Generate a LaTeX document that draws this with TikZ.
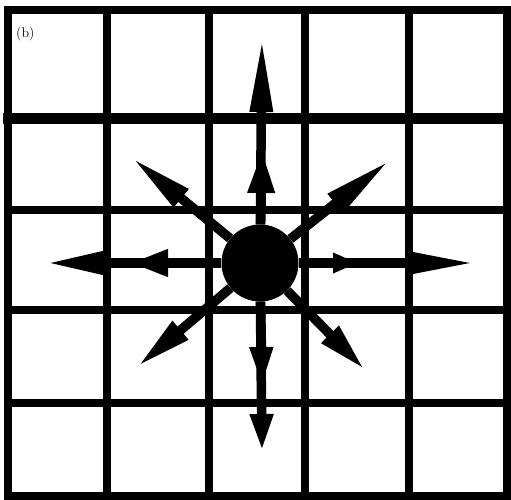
\documentclass[tikz,border=0pt]{standalone}
\usepackage{tikz}
\usetikzlibrary{arrows.meta, positioning}

\begin{document}
\begin{tikzpicture}[x=1pt, y=-1pt,
  gridline/.style={line width=8pt, line cap=rect},
  shaft/.style={line width=9.5pt},
  src/.style={circle, fill=black, minimum size=77pt, inner sep=0pt},
  tag/.style={font=\fontsize{14}{16}\selectfont, inner sep=0pt},
]
  \useasboundingbox (0,0) rectangle (511,500);

  % grid
  \foreach \gx in {8,107,209,305,409,507}
    \draw[gridline] (\gx,10) -- (\gx,496);
  \foreach \gy in {10,210,310,403,496}
    \draw[gridline] (8,\gy) -- (507,\gy);
  \draw[gridline, line width=11pt] (8,119) -- (507,119);

  \node[tag, anchor=west] (lbl) at (16,34) {(b)};

  % source and arrow ends
  \node[src] (src) at (260,263) {};
  \coordinate (up)  at (262,37);   \coordinate (upm) at (262,150);
  \coordinate (dn)  at (262,452);  \coordinate (dnm) at (262,387);
  \coordinate (lf)  at (45,263);   \coordinate (lfm) at (130,263);
  \coordinate (rt)  at (477,263);  \coordinate (rtm) at (358,263);
  \coordinate (nw)  at (131,157);  \coordinate (ne)  at (390,160);
  \coordinate (sw)  at (137,367);  \coordinate (se)  at (365,370);

  \draw[shaft, -{Triangle[length=75pt, width=21pt]}] (src) -- (up);
  \draw[shaft, -{Triangle[length=43pt, width=25pt]}] (src) -- (upm);
  \draw[shaft, -{Triangle[length=38pt, width=21pt]}] (src) -- (dn);
  \draw[shaft, -{Triangle[length=40pt, width=21pt]}] (src) -- (dnm);
  \draw[shaft, -{Triangle[length=58pt, width=21pt]}] (src) -- (lf);
  \draw[shaft, -{Triangle[length=38pt, width=25pt]}] (src) -- (lfm);
  \draw[shaft, -{Triangle[length=67pt, width=20pt]}] (src) -- (rt);
  \draw[shaft, -{Triangle[length=25pt, width=19pt]}] (src) -- (rtm);
  \draw[shaft, -{Triangle[length=65pt, width=21pt]}] (src) -- (nw);
  \draw[shaft, -{Triangle[length=70pt, width=22pt]}] (src) -- (ne);
  \draw[shaft, -{Triangle[length=57pt, width=22pt]}] (src) -- (sw);
  \draw[shaft, -{Triangle[length=50pt, width=22pt]}] (src) -- (se);
\end{tikzpicture}
\end{document}
